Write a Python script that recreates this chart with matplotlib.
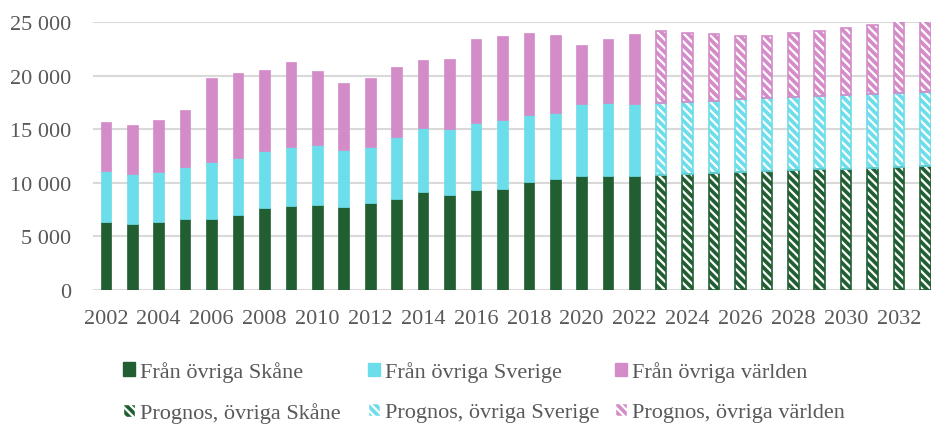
import numpy as np
import matplotlib.pyplot as plt
from matplotlib.patches import Patch
from matplotlib.ticker import FuncFormatter

plt.rcParams['font.family'] = ['Liberation Serif', 'DejaVu Serif']

# observed years
years_obs = list(range(2002, 2023))
skane_obs = [6310, 6130, 6310, 6590, 6620, 7030, 7680, 7840, 7900, 7770, 8080,
             8520, 9110, 8890, 9360, 9450, 10100, 10320, 10670, 10630, 10630]
sverige_obs = [4790, 4690, 4670, 4880, 5290, 5250, 5320, 5530, 5600, 5260, 5290,
               5780, 6000, 6160, 6190, 6440, 6260, 6160, 6650, 6780, 6750]
varlden_obs = [4570, 4540, 4880, 5350, 7870, 7990, 7520, 7870, 6930, 6310, 6440,
               6500, 6310, 6500, 7830, 7800, 7640, 7340, 5500, 6040, 6530]

# forecast years
years_prog = list(range(2023, 2034))
skane_prog = [10760, 10850, 10950, 11040, 11100, 11160, 11260, 11320, 11410, 11500, 11600]
sverige_prog = [6680, 6690, 6710, 6750, 6780, 6810, 6810, 6870, 6870, 6910, 6900]
varlden_prog = [6690, 6460, 6220, 5940, 5780, 5980, 6120, 6250, 6470, 6750, 6900]

labels = ['Från övriga Skåne', 'Från övriga Sverige', 'Från övriga världen']
prog_labels = ['Prognos, övriga Skåne', 'Prognos, övriga Sverige', 'Prognos, övriga världen']
colors = ['#215F33', '#6CDDEA', '#D48CC8']
grey = '#595959'
hatch = '\\\\\\\\'

fig = plt.figure(figsize=(9.31, 4.27), dpi=100)
ax = fig.add_axes([93 / 931, (427 - 291) / 427, 1 - 93 / 931, 268 / 427])

x_obs = np.array(years_obs)
x_prog = np.array(years_prog)
w = 0.4

# observed stacks
bottom = np.zeros(len(years_obs))
for vals, c in zip([skane_obs, sverige_obs, varlden_obs], colors):
    ax.bar(x_obs, vals, w, bottom=bottom, color=c, edgecolor=c, linewidth=0.5, zorder=3)
    bottom += np.array(vals)

# forecast stacks, white hatch on colour
plt.rcParams['hatch.color'] = 'white'
plt.rcParams['hatch.linewidth'] = 1.6
bottom = np.zeros(len(years_prog))
for vals, c in zip([skane_prog, sverige_prog, varlden_prog], colors):
    ax.bar(x_prog, vals, w, bottom=bottom, color=c, hatch=hatch, linewidth=0, zorder=3)
    ax.bar(x_prog, vals, w, bottom=bottom, fill=False, edgecolor=c, linewidth=1.2, zorder=4)
    bottom += np.array(vals)

ax.set_xlim(2002 - 0.485, 2033.21)
ax.set_ylim(0, 25000)
ax.set_yticks(range(0, 25001, 5000))
ax.yaxis.set_major_formatter(FuncFormatter(lambda v, p: f'{int(v):,}'.replace(',', ' ')))
ax.set_xticks(range(2002, 2033, 2))
ax.grid(axis='y', color='#D9D9D9', linewidth=1.5, zorder=0)
for s in ['top', 'right', 'left', 'bottom']:
    ax.spines[s].set_visible(False)
ax.tick_params(axis='both', length=0, labelsize=16, colors=grey)
ax.tick_params(axis='y', pad=16)
ax.tick_params(axis='x', pad=14)

# one legend per column so the columns sit where they do in the original
col_x = [123, 368, 615]
for i in range(3):
    handles = [Patch(facecolor=colors[i], edgecolor=colors[i]),
               Patch(facecolor=colors[i], edgecolor='white', hatch=hatch)]
    leg = fig.legend(handles, [labels[i], prog_labels[i]], loc='center left',
                     bbox_to_anchor=(col_x[i] / 931, 1 - 393 / 427),
                     frameon=False, fontsize=16, handlelength=0.55, handleheight=0.55,
                     handletextpad=0.2, labelspacing=0.92, borderpad=0, borderaxespad=0)
    for t in leg.get_texts():
        t.set_color(grey)

fig.savefig('out.png', dpi=100)
